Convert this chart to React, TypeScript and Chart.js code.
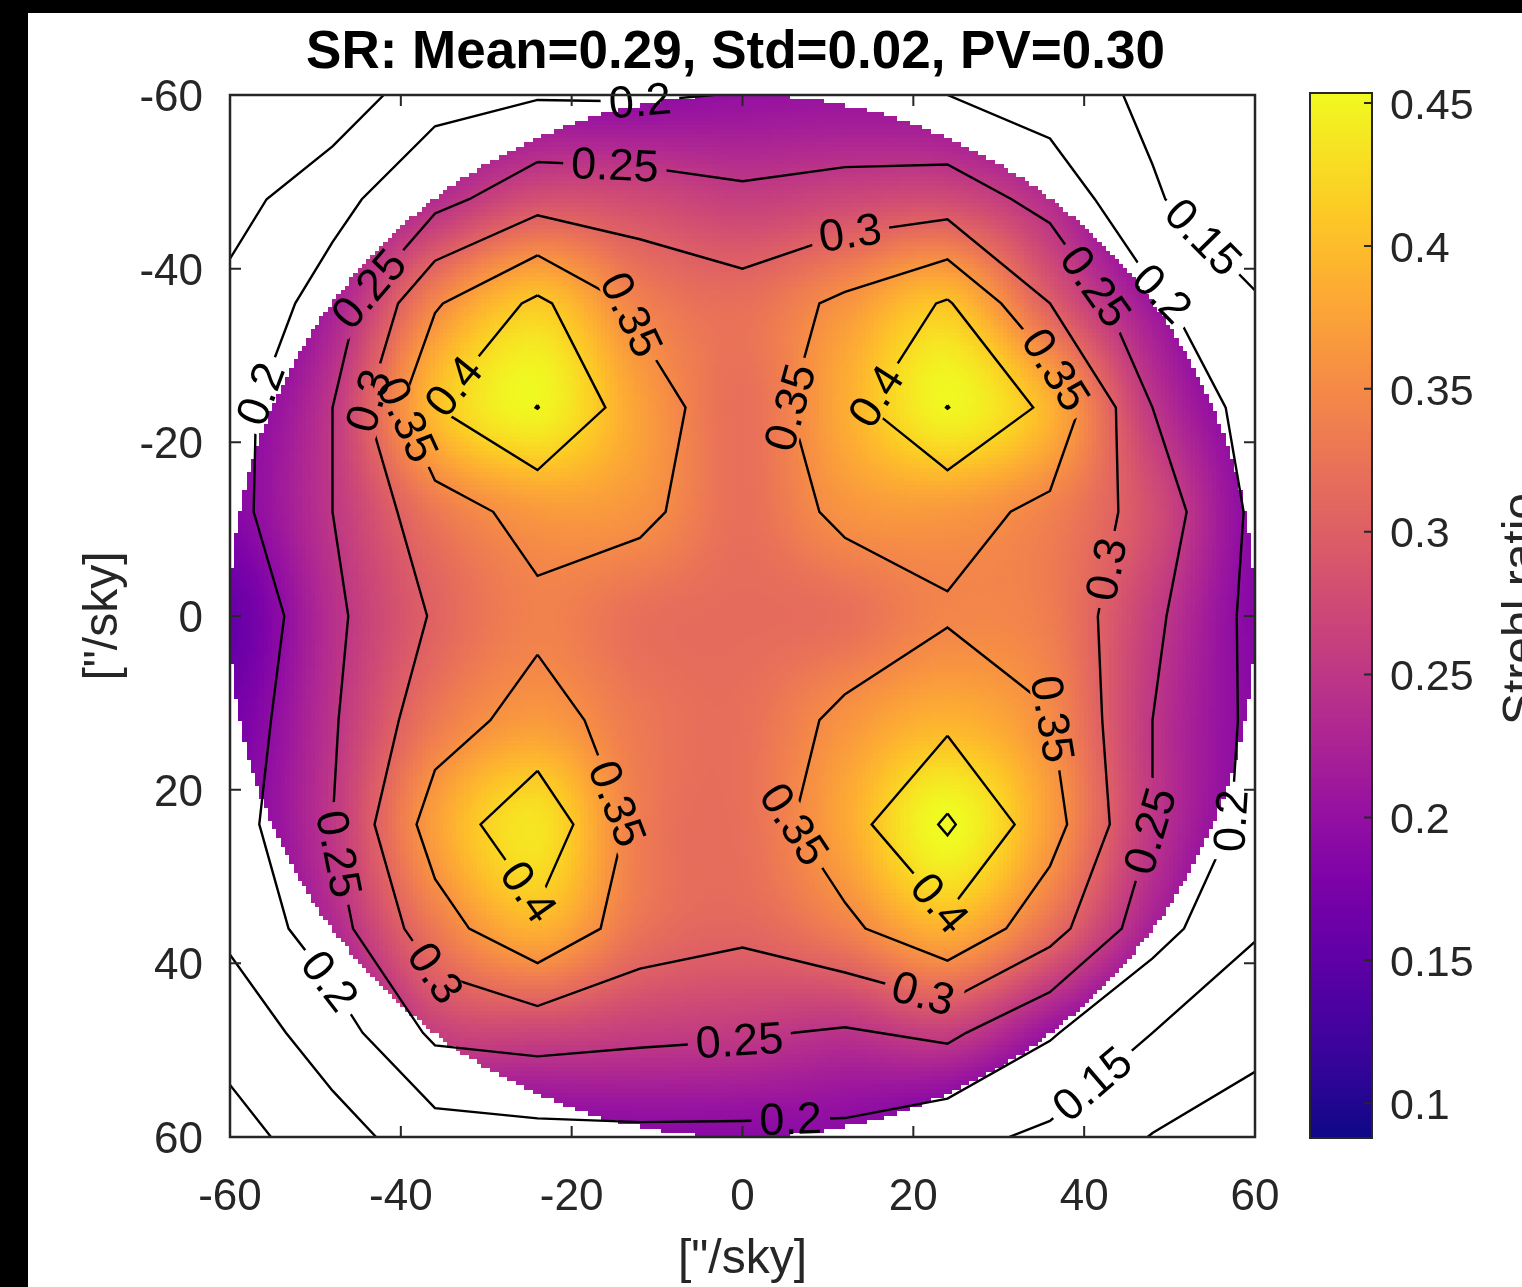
import React, { useEffect, useRef } from 'react';
import { Chart, registerables } from 'chart.js';

Chart.register(...registerables);

// ---------- data ----------
const gridX = [-60, -48, -36, -24, -12, 0, 12, 24, 36, 48, 60];
const gridY = [-60, -48, -36, -24, -12, 0, 12, 24, 36, 48, 60];
// Strehl ratio sampled on the field grid (rows: y = -60 ... 60, cols: x = -60 ... 60)
const srGrid = [
  [0.105, 0.115, 0.185, 0.196, 0.195, 0.202, 0.205, 0.2, 0.175, 0.14, 0.108],
  [0.13, 0.186, 0.235, 0.28, 0.275, 0.26, 0.27, 0.275, 0.235, 0.155, 0.115],
  [0.165, 0.22, 0.345, 0.41, 0.34, 0.32, 0.36, 0.405, 0.3, 0.21, 0.155],
  [0.183, 0.25, 0.399, 0.451, 0.374, 0.32, 0.384, 0.451, 0.39, 0.25, 0.18],
  [0.185, 0.25, 0.329, 0.366, 0.36, 0.32, 0.36, 0.366, 0.34, 0.28, 0.19],
  [0.155, 0.24, 0.305, 0.34, 0.32, 0.315, 0.32, 0.345, 0.335, 0.26, 0.187],
  [0.17, 0.245, 0.33, 0.367, 0.33, 0.32, 0.36, 0.39, 0.352, 0.25, 0.19],
  [0.18, 0.25, 0.372, 0.435, 0.335, 0.32, 0.38, 0.457, 0.37, 0.25, 0.185],
  [0.16, 0.23, 0.33, 0.39, 0.325, 0.31, 0.34, 0.39, 0.32, 0.22, 0.155],
  [0.12, 0.175, 0.26, 0.269, 0.26, 0.255, 0.245, 0.26, 0.205, 0.15, 0.115],
  [0.08, 0.13, 0.177, 0.185, 0.19, 0.19, 0.19, 0.165, 0.14, 0.098, 0.075],
];
const contourLevels = [0.1, 0.15, 0.2, 0.25, 0.3, 0.35, 0.4, 0.45];
const axisTicks = [-60, -40, -20, 0, 20, 40, 60];
const colorbarTicks = [0.1, 0.15, 0.2, 0.25, 0.3, 0.35, 0.4, 0.45];
const colorRange = [0.0878, 0.4535];
const pupilRadius = 60;
const titleText = 'SR: Mean=0.29, Std=0.02, PV=0.30';
const axisLabel = '["/sky]';
const colorbarLabel = 'Strehl ratio';
// where the inline contour labels sit: [level, x, y]
const labelSpots: number[][] = [
  [0.2, -12, -59.4], [0.25, -15, -50.5], [0.3, 12.6, -44.2], [0.25, -43, -37],
  [0.35, -15.5, -33.5], [0.4, -34.5, -27], [0.35, -40.5, -22], [0.3, -44.5, -25],
  [0.2, -57.5, -26], [0.35, 4.5, -23.7], [0.4, 15.5, -25.4], [0.35, 36.6, -28.3],
  [0.25, 40, -37], [0.2, 49.5, -37.5], [0.15, 52.4, -42.1], [0.3, 43, -5.3],
  [0.35, 35.4, 12], [0.25, 47.5, 24.7], [0.2, 55.6, 23.5], [0.35, 5, 24.7],
  [0.4, 21.4, 34.5], [0.3, 20.8, 44.8], [0.15, 40.1, 52.9], [0.25, -0.3, 49.8],
  [0.2, 5.6, 56.4], [0.3, -37.8, 42.5], [0.2, -49.7, 43.1], [0.25, -48.3, 27.6],
  [0.4, -27.2, 33.3], [0.35, -16.7, 22.4],
];

// plasma colormap stops
const plasmaStops = [
  [13, 8, 135], [49, 5, 151], [76, 2, 161], [102, 0, 167], [126, 3, 168],
  [149, 17, 161], [170, 35, 149], [188, 53, 135], [204, 71, 120], [218, 90, 105],
  [230, 108, 92], [241, 128, 78], [248, 149, 64], [253, 172, 51], [253, 197, 39],
  [248, 223, 35], [240, 249, 33],
];

const FONT = '"Liberation Sans", Arial, Helvetica, sans-serif';
const INK = '#262626';

type Pt = { x: number; y: number };

function plasma(v: number): string {
  let t = (v - colorRange[0]) / (colorRange[1] - colorRange[0]);
  t = Math.max(0, Math.min(1, t));
  const f = t * (plasmaStops.length - 1);
  const i = Math.min(plasmaStops.length - 2, Math.floor(f));
  const u = f - i;
  const a = plasmaStops[i], b = plasmaStops[i + 1];
  const c = [0, 1, 2].map((k) => Math.round(a[k] + (b[k] - a[k]) * u));
  return `rgb(${c[0]},${c[1]},${c[2]})`;
}

function cubic(p0: number, p1: number, p2: number, p3: number, t: number) {
  return p1 + 0.5 * t * (p2 - p0 + t * (2 * p0 - 5 * p1 + 4 * p2 - p3 + t * (3 * (p1 - p2) + p3 - p0)));
}

function sampleField(x: number, y: number): number {
  const nx = gridX.length, ny = gridY.length;
  const dx = gridX[1] - gridX[0], dy = gridY[1] - gridY[0];
  const fx = (x - gridX[0]) / dx, fy = (y - gridY[0]) / dy;
  const i = Math.max(0, Math.min(nx - 2, Math.floor(fx)));
  const j = Math.max(0, Math.min(ny - 2, Math.floor(fy)));
  const tx = fx - i, ty = fy - j;
  const g = (ii: number, jj: number) =>
    srGrid[Math.max(0, Math.min(ny - 1, jj))][Math.max(0, Math.min(nx - 1, ii))];
  const r = [-1, 0, 1, 2].map((d) => cubic(g(i - 1, j + d), g(i, j + d), g(i + 1, j + d), g(i + 2, j + d), tx));
  return cubic(r[0], r[1], r[2], r[3], ty);
}

function contourPolylines(level: number): Pt[][] {
  const nx = gridX.length, ny = gridY.length;
  const pts = new Map<string, Pt>();
  const segs: [string, string][] = [];
  const H = (i: number, j: number) => {
    const k = `h${i},${j}`;
    if (!pts.has(k)) {
      const a = srGrid[j][i], b = srGrid[j][i + 1];
      const t = (level - a) / (b - a);
      pts.set(k, { x: gridX[i] + t * (gridX[i + 1] - gridX[i]), y: gridY[j] });
    }
    return k;
  };
  const V = (i: number, j: number) => {
    const k = `v${i},${j}`;
    if (!pts.has(k)) {
      const a = srGrid[j][i], b = srGrid[j + 1][i];
      const t = (level - a) / (b - a);
      pts.set(k, { x: gridX[i], y: gridY[j] + t * (gridY[j + 1] - gridY[j]) });
    }
    return k;
  };
  for (let j = 0; j < ny - 1; j++) {
    for (let i = 0; i < nx - 1; i++) {
      const tl = srGrid[j][i] >= level, tr = srGrid[j][i + 1] >= level;
      const br = srGrid[j + 1][i + 1] >= level, bl = srGrid[j + 1][i] >= level;
      const crossed: string[] = [];
      if (tl !== tr) crossed.push('T');
      if (tr !== br) crossed.push('R');
      if (br !== bl) crossed.push('B');
      if (bl !== tl) crossed.push('L');
      const key = (e: string) => (e === 'T' ? H(i, j) : e === 'B' ? H(i, j + 1) : e === 'L' ? V(i, j) : V(i + 1, j));
      if (crossed.length === 2) {
        segs.push([key(crossed[0]), key(crossed[1])]);
      } else if (crossed.length === 4) {
        const c = (srGrid[j][i] + srGrid[j][i + 1] + srGrid[j + 1][i + 1] + srGrid[j + 1][i]) / 4 >= level;
        const isolateTRBL = (tl && c) || (!tl && !c);
        if (isolateTRBL) {
          segs.push([key('T'), key('R')]);
          segs.push([key('B'), key('L')]);
        } else {
          segs.push([key('L'), key('T')]);
          segs.push([key('R'), key('B')]);
        }
      }
    }
  }
  const adj = new Map<string, number[]>();
  segs.forEach((s, idx) => {
    for (const k of s) {
      if (!adj.has(k)) adj.set(k, []);
      adj.get(k)!.push(idx);
    }
  });
  const used = new Array(segs.length).fill(false);
  const lines: Pt[][] = [];
  const walk = (startKey: string) => {
    const line: Pt[] = [pts.get(startKey)!];
    let cur = startKey;
    let idx = adj.get(cur)!.find((n) => !used[n]);
    while (idx !== undefined) {
      used[idx] = true;
      const s = segs[idx];
      const nxt = s[0] === cur ? s[1] : s[0];
      line.push(pts.get(nxt)!);
      cur = nxt;
      idx = adj.get(cur)!.find((n) => !used[n]);
    }
    lines.push(line);
  };
  adj.forEach((list, k) => {
    if (list.length === 1 && !used[list[0]]) walk(k);
  });
  segs.forEach((s, idx) => {
    if (!used[idx]) walk(s[0]);
  });
  return lines;
}

type LabelInfo = { text: string; p: Pt; a: Pt; b: Pt };

function locateLabels(linesByLevel: Pt[][][]): LabelInfo[] {
  const out: LabelInfo[] = [];
  for (const [lev, sx, sy] of labelSpots) {
    const li = contourLevels.findIndex((l) => Math.abs(l - lev) < 1e-9);
    if (li < 0) continue;
    let best: LabelInfo | null = null;
    let bd = Infinity;
    for (const poly of linesByLevel[li]) {
      for (let k = 0; k < poly.length - 1; k++) {
        const a = poly[k], b = poly[k + 1];
        const dx = b.x - a.x, dy = b.y - a.y;
        const L2 = dx * dx + dy * dy || 1e-12;
        let t = ((sx - a.x) * dx + (sy - a.y) * dy) / L2;
        t = Math.max(0, Math.min(1, t));
        const px = a.x + t * dx, py = a.y + t * dy;
        const d = (px - sx) ** 2 + (py - sy) ** 2;
        if (d < bd) {
          bd = d;
          best = { text: String(lev), p: { x: px, y: py }, a, b };
        }
      }
    }
    if (best && bd < 100) out.push(best);
  }
  return out;
}

const LABEL_FONT = `45px ${FONT}`;

export default function App() {
  const mainRef = useRef<HTMLCanvasElement>(null);
  const cbRef = useRef<HTMLCanvasElement>(null);

  useEffect(() => {
    const linesByLevel = contourLevels.map((l) => contourPolylines(l));
    const labels = locateLabels(linesByLevel);

    const datasets = contourLevels.map((lev, li) => {
      const data: Pt[] = [];
      for (const poly of linesByLevel[li]) {
        for (const p of poly) data.push({ x: p.x, y: p.y });
        data.push({ x: NaN, y: NaN });
      }
      return {
        label: String(lev),
        data,
        showLine: true,
        pointRadius: 0,
        pointHoverRadius: 0,
        borderColor: '#000',
        borderWidth: 2.4,
        spanGaps: false,
        tension: 0,
        fill: false,
      };
    });

    const labelGeom = (chart: any) => {
      const { x, y } = chart.scales;
      const ctx = chart.ctx as CanvasRenderingContext2D;
      ctx.save();
      ctx.font = LABEL_FONT;
      const res = labels.map((L) => {
        const px = x.getPixelForValue(L.p.x), py = y.getPixelForValue(L.p.y);
        const ax = x.getPixelForValue(L.a.x), ay = y.getPixelForValue(L.a.y);
        const bx = x.getPixelForValue(L.b.x), by = y.getPixelForValue(L.b.y);
        let ang = Math.atan2(by - ay, bx - ax);
        if (ang > Math.PI / 2) ang -= Math.PI;
        if (ang <= -Math.PI / 2) ang += Math.PI;
        const w = ctx.measureText(L.text).width + 16;
        return { text: L.text, px, py, ang, w, h: 34 };
      });
      ctx.restore();
      return res;
    };

    const heatPlugin = {
      id: 'heat',
      beforeDatasetsDraw(chart: any) {
        const { ctx, chartArea: ca, scales } = chart;
        const sx = scales.x, sy = scales.y;
        ctx.save();
        ctx.beginPath();
        ctx.rect(ca.left, ca.top, ca.right - ca.left, ca.bottom - ca.top);
        ctx.clip();
        const step = 0.5;
        const R2 = pupilRadius * pupilRadius;
        for (let gx = -pupilRadius; gx < pupilRadius - 1e-9; gx += step) {
          const x0 = sx.getPixelForValue(gx), x1 = sx.getPixelForValue(gx + step);
          for (let gy = -pupilRadius; gy < pupilRadius - 1e-9; gy += step) {
            const cx = gx + step / 2, cy = gy + step / 2;
            if (cx * cx + cy * cy > R2) continue;
            const y0 = sy.getPixelForValue(gy), y1 = sy.getPixelForValue(gy + step);
            ctx.fillStyle = plasma(sampleField(cx, cy));
            const l = Math.floor(Math.min(x0, x1)), t = Math.floor(Math.min(y0, y1));
            ctx.fillRect(l, t, Math.ceil(Math.max(x0, x1)) - l, Math.ceil(Math.max(y0, y1)) - t);
          }
        }
        ctx.restore();
        // clip holes where contour labels go
        const geo = labelGeom(chart);
        ctx.save();
        ctx.beginPath();
        ctx.rect(0, 0, chart.width, chart.height);
        for (const g of geo) {
          const c = Math.cos(g.ang), s = Math.sin(g.ang);
          const hw = g.w / 2, hh = g.h / 2;
          const corners = [
            [-hw, -hh], [hw, -hh], [hw, hh], [-hw, hh],
          ].map(([u, v]) => [g.px + u * c - v * s, g.py + u * s + v * c]);
          ctx.moveTo(corners[0][0], corners[0][1]);
          for (let k = 1; k < 4; k++) ctx.lineTo(corners[k][0], corners[k][1]);
          ctx.closePath();
        }
        ctx.clip('evenodd');
      },
      afterDatasetsDraw(chart: any) {
        const { ctx } = chart;
        ctx.restore();
        const geo = labelGeom(chart);
        ctx.save();
        ctx.font = LABEL_FONT;
        ctx.fillStyle = '#000';
        ctx.textAlign = 'center';
        ctx.textBaseline = 'middle';
        for (const g of geo) {
          ctx.save();
          ctx.translate(g.px, g.py);
          ctx.rotate(g.ang);
          ctx.fillText(g.text, 0, 2);
          ctx.restore();
        }
        ctx.restore();
      },
      afterDraw(chart: any) {
        const { ctx, chartArea: ca, scales } = chart;
        ctx.save();
        ctx.strokeStyle = INK;
        ctx.lineWidth = 2.5;
        ctx.strokeRect(ca.left, ca.top, ca.right - ca.left, ca.bottom - ca.top);
        ctx.lineWidth = 2;
        const tl = 11;
        ctx.beginPath();
        for (const v of axisTicks) {
          const px = scales.x.getPixelForValue(v);
          ctx.moveTo(px, ca.bottom); ctx.lineTo(px, ca.bottom - tl);
          ctx.moveTo(px, ca.top); ctx.lineTo(px, ca.top + tl);
          const py = scales.y.getPixelForValue(v);
          ctx.moveTo(ca.left, py); ctx.lineTo(ca.left + tl, py);
          ctx.moveTo(ca.right, py); ctx.lineTo(ca.right - tl, py);
        }
        ctx.stroke();
        // title
        ctx.fillStyle = '#000';
        ctx.font = `bold 53px ${FONT}`;
        ctx.textAlign = 'center';
        ctx.textBaseline = 'alphabetic';
        ctx.fillText(titleText, (ca.left + ca.right) / 2 - 7, 55);
        // axis titles
        ctx.fillStyle = INK;
        ctx.font = `48px ${FONT}`;
        ctx.fillText(axisLabel, (ca.left + ca.right) / 2, 1260);
        ctx.save();
        ctx.translate(89, (ca.top + ca.bottom) / 2);
        ctx.rotate(-Math.PI / 2);
        ctx.fillText(axisLabel, 0, 0);
        ctx.restore();
        ctx.restore();
      },
    };

    const tickFont = { family: FONT, size: 44 };

    const main = new Chart(mainRef.current!, {
      type: 'scatter',
      data: { datasets: datasets as any },
      options: {
        animation: false,
        responsive: false,
        devicePixelRatio: 1,
        events: [],
        layout: { padding: { left: 0, top: 82, right: 35, bottom: 0 } },
        plugins: { legend: { display: false }, tooltip: { enabled: false }, title: { display: false } },
        scales: {
          x: {
            type: 'linear',
            min: -60,
            max: 60,
            afterBuildTicks: (s: any) => { s.ticks = axisTicks.map((v) => ({ value: v })); },
            afterFit: (s: any) => { s.height = 150; s.paddingLeft = 0; s.paddingRight = 0; },
            grid: { display: false, drawTicks: false },
            border: { display: false },
            ticks: { padding: 34, font: tickFont, color: INK, maxRotation: 0, autoSkip: false, callback: (v: any) => String(v) },
          },
          y: {
            type: 'linear',
            reverse: true,
            min: -60,
            max: 60,
            afterBuildTicks: (s: any) => { s.ticks = axisTicks.map((v) => ({ value: v })); },
            afterFit: (s: any) => { s.width = 202; s.paddingTop = 0; s.paddingBottom = 0; },
            grid: { display: false, drawTicks: false },
            border: { display: false },
            ticks: { padding: 27, font: tickFont, color: INK, autoSkip: false, labelOffset: 4, callback: (v: any) => String(v) },
          },
        },
      } as any,
      plugins: [heatPlugin],
    });

    const cbPlugin = {
      id: 'cb',
      beforeDatasetsDraw(chart: any) {
        const { ctx, chartArea: ca, scales } = chart;
        const sy = scales.y;
        const n = 500;
        const [lo, hi] = colorRange;
        for (let k = 0; k < n; k++) {
          const v0 = lo + ((hi - lo) * k) / n, v1 = lo + ((hi - lo) * (k + 1)) / n;
          const p0 = sy.getPixelForValue(v0), p1 = sy.getPixelForValue(v1);
          ctx.fillStyle = plasma((v0 + v1) / 2);
          ctx.fillRect(ca.left, Math.min(p0, p1) - 0.5, ca.right - ca.left, Math.abs(p1 - p0) + 1);
        }
      },
      afterDraw(chart: any) {
        const { ctx, chartArea: ca, scales } = chart;
        ctx.save();
        ctx.strokeStyle = INK;
        ctx.lineWidth = 2;
        ctx.strokeRect(ca.left, ca.top, ca.right - ca.left, ca.bottom - ca.top);
        ctx.beginPath();
        for (const v of colorbarTicks) {
          const py = scales.y.getPixelForValue(v);
          ctx.moveTo(ca.right, py);
          ctx.lineTo(ca.right - 8, py);
        }
        ctx.stroke();
        ctx.fillStyle = INK;
        ctx.font = `48px ${FONT}`;
        ctx.textAlign = 'center';
        ctx.textBaseline = 'alphabetic';
        ctx.translate(246, 596);
        ctx.rotate(-Math.PI / 2);
        ctx.fillText(colorbarLabel, 0, 0);
        ctx.restore();
      },
    };

    const cb = new Chart(cbRef.current!, {
      type: 'scatter',
      data: { datasets: [] },
      options: {
        animation: false,
        responsive: false,
        devicePixelRatio: 1,
        events: [],
        layout: { padding: { left: 20, top: 80, right: 0, bottom: 149 } },
        plugins: { legend: { display: false }, tooltip: { enabled: false } },
        scales: {
          x: { display: false, min: 0, max: 1 },
          y: {
            type: 'linear',
            position: 'right',
            min: colorRange[0],
            max: colorRange[1],
            afterBuildTicks: (s: any) => { s.ticks = colorbarTicks.map((v) => ({ value: v })); },
            afterFit: (s: any) => { s.width = 150; s.paddingTop = 0; s.paddingBottom = 0; },
            grid: { display: false, drawTicks: false },
            border: { display: false },
            ticks: {
              padding: 18,
              font: { family: FONT, size: 43 },
              color: INK,
              autoSkip: false,
              labelOffset: 4,
              callback: (v: any) => String(Number(Number(v).toFixed(2))),
            },
          },
        },
      } as any,
      plugins: [cbPlugin],
    });

    return () => {
      main.destroy();
      cb.destroy();
    };
  }, []);

  return (
    <div style={{ position: 'fixed', left: 0, top: 0, width: 1522, height: 1287, background: '#000', overflow: 'hidden' }}>
      <div style={{ position: 'absolute', left: 28, top: 13, width: 1494, height: 1274, background: '#fff', overflow: 'hidden' }}>
        <canvas ref={mainRef} width={1262} height={1274} style={{ position: 'absolute', left: 0, top: 0, width: 1262, height: 1274 }} />
        <canvas ref={cbRef} width={232} height={1274} style={{ position: 'absolute', left: 1262, top: 0, width: 232, height: 1274 }} />
      </div>
    </div>
  );
}
